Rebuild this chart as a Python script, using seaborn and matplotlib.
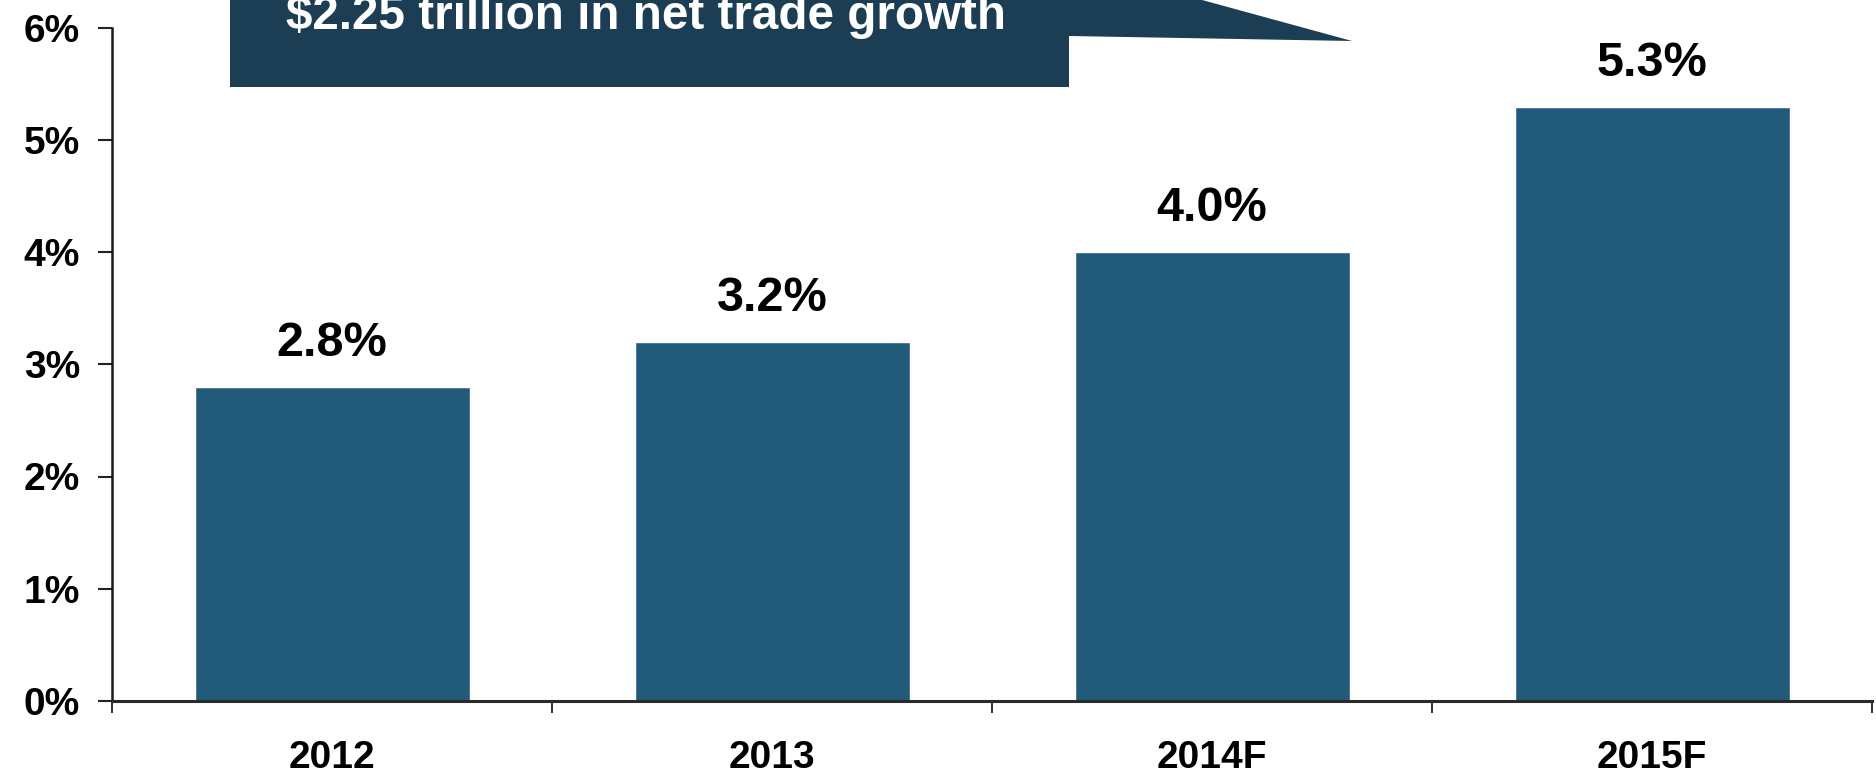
import seaborn as sns
import matplotlib.pyplot as plt
from matplotlib.patches import Polygon
from matplotlib.ticker import FixedLocator, PercentFormatter

# data
years = ["2012", "2013", "2014F", "2015F"]
growth = [2.8, 3.2, 4.0, 5.3]
value_labels = ["2.8%", "3.2%", "4.0%", "5.3%"]
callout_text = "$2.25 trillion in net trade growth"

bar_color = "#225b7a"
callout_color = "#1c3e55"

sns.set_theme(style="white")
plt.rcParams["font.family"] = ["Liberation Sans", "DejaVu Sans"]
plt.rcParams["font.weight"] = "bold"

W, H = 1876, 774
fig = plt.figure(figsize=(W / 100, H / 100), dpi=100)
ax = fig.add_axes([112 / W, 73.3 / H, (1872 - 112) / W, (700.7 - 28.1) / H])

sns.barplot(x=years, y=growth, color=bar_color, saturation=1, width=0.625, ax=ax)

ax.set_xlim(-0.5, 3.5)
ax.set_ylim(0, 6)
ax.set_xlabel("")
ax.set_ylabel("")

# y axis: percent ticks
ax.yaxis.set_major_locator(FixedLocator(range(0, 7)))
ax.yaxis.set_major_formatter(PercentFormatter(decimals=0))
ax.tick_params(axis="y", which="major", left=True, length=10, width=1.5,
               color="#222222", pad=13, labelsize=28)

# x axis: labels at centres, tick marks at the category edges
ax.set_xticks(range(len(years)))
ax.set_xticklabels(years)
ax.set_xticks([-0.5, 0.5, 1.5, 2.5, 3.5], minor=True)
ax.tick_params(axis="x", which="major", bottom=True, length=0, pad=28.5, labelsize=28)
ax.tick_params(axis="x", which="minor", bottom=True, length=8.6, width=1.3,
               color="#222222", direction="out")

for lab in ax.get_xticklabels() + ax.get_yticklabels():
    lab.set_fontweight("bold")
    lab.set_color("black")

for side in ["top", "right"]:
    ax.spines[side].set_visible(False)
ax.spines["left"].set_linewidth(1.8)
ax.spines["left"].set_color("#1a1a1a")
ax.spines["bottom"].set_linewidth(2.2)
ax.spines["bottom"].set_color("#2a2a2a")

# value labels above bars
for i, (v, txt) in enumerate(zip(growth, value_labels)):
    ax.annotate(txt, xy=(i, v), xytext=(0, 22.3), textcoords="offset points",
                ha="center", va="baseline", fontsize=35, fontweight="bold",
                color="black")

# callout box at the top (cut by the figure edge)
pts = [(230, -20), (230, 87), (1069, 87), (1069, 36), (1352, 41), (1129, -20)]
pts = [(x / W, 1 - y / H) for x, y in pts]
fig.patches.append(Polygon(pts, closed=True, transform=fig.transFigure,
                           facecolor=callout_color, edgecolor="none", zorder=5))
fig.text(286 / W, 1 - 29 / H, callout_text, color="white", fontsize=34.3,
         fontweight="bold", ha="left", va="baseline", zorder=6)

fig.savefig("out.png", dpi=100)
